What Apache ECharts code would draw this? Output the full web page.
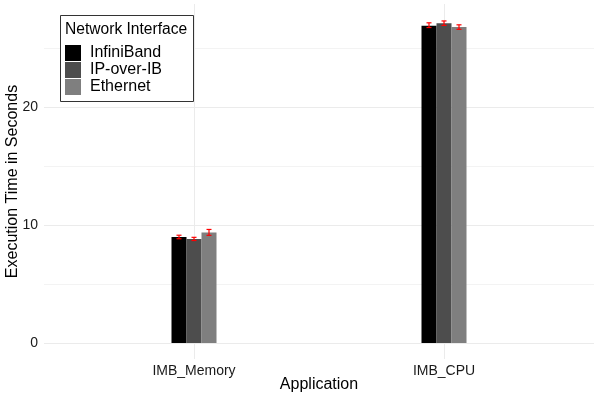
<!DOCTYPE html>
<html><head><meta charset="utf-8">
<script src="https://cdn.jsdelivr.net/npm/echarts@6/dist/echarts.min.js"></script>
<style>html,body{margin:0;padding:0;background:#fff}#c{width:600px;height:400px}</style>
</head><body><div id="c"></div>
<script>
const categories = ['IMB_Memory', 'IMB_CPU'];
const seriesNames = ['InfiniBand', 'IP-over-IB', 'Ethernet'];
const infiniband = [9.0, 26.95];
const ipoib = [8.83, 27.17];
const ethernet = [9.38, 26.84];
const infinibandErr = [[8.85, 9.15], [26.8, 27.2]];
const ipoibErr = [[8.7, 8.97], [26.98, 27.36]];
const ethernetErr = [[9.14, 9.64], [26.65, 27.03]];
const yTicks = [0, 10, 20];
const yMinor = [5, 15, 25];

const values = [infiniband, ipoib, ethernet];
const errs = [infinibandErr, ipoibErr, ethernetErr];
const colors = ['#000000', '#4d4d4d', '#7f7f7f'];
const BW = 15;

const chart = echarts.init(document.getElementById('c'), null, {renderer: 'canvas'});
const font = 'Liberation Sans, Arial, sans-serif';

const series = [];
series.push({
  type: 'line', data: [], silent: true, z: 0,
  markLine: {
    silent: true, symbol: 'none', label: {show: false}, animation: false, z: 0,
    lineStyle: {color: '#f3f3f3', width: 1, type: 'solid'},
    data: yMinor.map(v => ({yAxis: v}))
  }
});
series.push({
  type: 'line', data: [], silent: true, z: 0,
  markLine: {
    silent: true, symbol: 'none', label: {show: false}, animation: false, z: 1,
    lineStyle: {color: '#ebebeb', width: 1, type: 'solid'},
    data: yTicks.map(v => ({yAxis: v})).concat(categories.map((c, j) => ({xAxis: j + 1})))
  }
});
values.forEach((vals, i) => {
  series.push({
    name: seriesNames[i], type: 'bar', barWidth: BW, barGap: '0%',
    itemStyle: {color: colors[i]},
    data: vals.map((v, j) => [j + 1, v]),
    z: 2
  });
});
errs.forEach((e, i) => {
  series.push({
    type: 'custom', z: 3, silent: true,
    data: e.map((r, j) => [j + 1, r[0], r[1]]),
    renderItem: function (params, api) {
      const lo = api.coord([api.value(0), api.value(1)]);
      const hi = api.coord([api.value(0), api.value(2)]);
      const x = lo[0] + (i - 1) * BW;
      const hw = 2.5;
      const st = {stroke: '#ff0000', lineWidth: 1.2};
      return {type: 'group', children: [
        {type: 'line', shape: {x1: x, y1: lo[1], x2: x, y2: hi[1]}, style: st},
        {type: 'line', shape: {x1: x - hw, y1: lo[1], x2: x + hw, y2: lo[1]}, style: st},
        {type: 'line', shape: {x1: x - hw, y1: hi[1], x2: x + hw, y2: hi[1]}, style: st}
      ]};
    }
  });
});

chart.setOption({
  animation: false,
  grid: {left: 44, right: 6, top: 4, bottom: 41, containLabel: false, outerBoundsMode: 'none'},
  xAxis: {
    type: 'value', min: 0.4, max: 2.6,
    name: 'Application', nameLocation: 'middle', nameGap: 18, nameMoveOverlap: false,
    nameTextStyle: {fontFamily: font, fontSize: 16, color: '#000'},
    axisLine: {show: false}, axisTick: {show: false, customValues: [1, 2]},
    splitLine: {show: false},
    axisLabel: {customValues: [1, 2], formatter: v => categories[Math.round(v) - 1] || '',
      fontFamily: font, fontSize: 14, color: '#1a1a1a', margin: 5}
  },
  yAxis: {
    type: 'value', min: -1.37, max: 28.8,
    name: 'Execution Time in Seconds', nameLocation: 'middle', nameGap: 23, nameRotate: 90, nameMoveOverlap: false,
    nameTextStyle: {fontFamily: font, fontSize: 16, color: '#000'},
    axisLine: {show: false}, axisTick: {show: false, customValues: yTicks},
    splitLine: {show: false},
    axisLabel: {customValues: yTicks, fontFamily: font, fontSize: 14, color: '#1a1a1a', margin: 6}
  },
  legend: {
    orient: 'vertical', left: 65, top: 45, itemWidth: 16, itemHeight: 16, itemGap: 1,
    icon: 'rect', data: seriesNames, z: 12,
    textStyle: {fontFamily: font, fontSize: 16, color: '#000', padding: [0, 0, 0, 4]},
    padding: 0
  },
  graphic: [
    {type: 'rect', shape: {x: 60.5, y: 15.5, width: 133, height: 86}, style: {fill: '#fff', stroke: '#333', lineWidth: 1}, z: 10},
    {type: 'text', x: 65, y: 22, style: {text: 'Network Interface', font: '15.6px ' + font, fill: '#000'}, z: 11}
  ],
  series: series
});
</script></body></html>
